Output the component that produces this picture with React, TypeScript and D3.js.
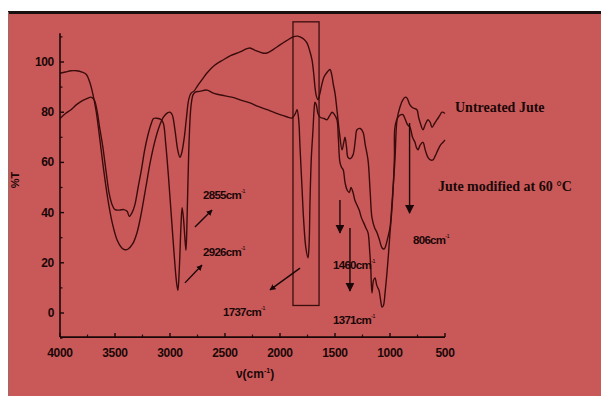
import React from 'react';
import * as d3 from 'd3';

// FTIR spectra (wavenumber cm-1, %T)
const untreated: [number, number][] = [
  [4000, 95.5], [3950, 96], [3900, 96.5], [3850, 96.5], [3800, 96], [3760, 95], [3730, 92],
  [3700, 87], [3670, 80], [3640, 70], [3600, 56], [3560, 44], [3520, 35], [3480, 29],
  [3440, 26], [3410, 25.2], [3380, 25.5], [3340, 27.5], [3300, 32], [3260, 40], [3220, 50],
  [3180, 60], [3140, 68], [3100, 74], [3060, 78], [3020, 79.8], [3000, 80], [2980, 79],
  [2955, 73], [2930, 65], [2910, 62], [2895, 63.5], [2870, 70], [2850, 78], [2830, 85],
  [2810, 87.5], [2780, 88.5], [2750, 90.5], [2700, 93.5], [2664, 95.6], [2600, 98.5],
  [2518, 100.8], [2450, 102.5], [2364, 104], [2300, 105.3], [2273, 105.6], [2220, 104.5],
  [2160, 103.6], [2118, 103.6], [2060, 105], [2000, 106.8], [1940, 108.5], [1882, 110],
  [1840, 110.3], [1818, 110], [1780, 109], [1755, 107.6], [1730, 104.5], [1709, 100.8],
  [1695, 96], [1682, 90], [1670, 86.5], [1655, 85], [1640, 87], [1620, 91], [1600, 94],
  [1570, 96], [1545, 97], [1530, 95], [1515, 91], [1500, 87.6], [1480, 80], [1460, 72],
  [1436, 65], [1420, 68], [1409, 70], [1395, 66], [1382, 62], [1360, 61.5], [1336, 63],
  [1315, 69], [1300, 73], [1270, 73.5], [1245, 72], [1225, 67], [1200, 61], [1180, 48],
  [1164, 38], [1140, 34], [1118, 32], [1095, 29], [1073, 26], [1055, 25.5], [1045, 26],
  [1020, 30], [1000, 34], [980, 45], [955, 61], [936, 77], [910, 82], [882, 85], [860, 86],
  [845, 85.6], [820, 83], [800, 82], [780, 81.5], [755, 81], [740, 78], [727, 76], [700, 73],
  [680, 75], [655, 77], [635, 76], [618, 74], [595, 75.5], [573, 77], [550, 78.5],
  [527, 80], [500, 79.5],
];

const modified60: [number, number][] = [
  [4000, 77.5], [3950, 79.5], [3900, 81], [3850, 83], [3800, 84.5], [3750, 85.5], [3720, 86],
  [3690, 85], [3665, 81], [3640, 74], [3610, 66], [3580, 56], [3550, 47], [3520, 42.5],
  [3500, 41.2], [3460, 41], [3420, 41.2], [3390, 40.5], [3370, 38.5], [3345, 40], [3320, 43],
  [3290, 50], [3260, 57], [3230, 65], [3200, 71], [3170, 75.5], [3150, 77.5], [3120, 77.6],
  [3080, 77], [3060, 75.5], [3040, 68], [3015, 55], [2990, 40], [2960, 22], [2940, 12],
  [2928, 9], [2915, 18], [2900, 35], [2890, 42], [2878, 38], [2865, 30], [2855, 25],
  [2848, 32], [2838, 50], [2825, 70], [2810, 82], [2790, 87], [2770, 88], [2730, 88.3],
  [2664, 88.8], [2600, 87.5], [2500, 86.5], [2420, 85.8], [2364, 84.9], [2273, 83.7],
  [2200, 82.3], [2118, 81], [2060, 80], [2000, 79], [1940, 78.2], [1890, 77.7], [1860, 79.5],
  [1845, 81], [1830, 77], [1818, 66], [1800, 50], [1785, 37], [1765, 26], [1745, 22],
  [1735, 28], [1727, 45], [1715, 62], [1700, 73], [1690, 81], [1682, 84], [1670, 83],
  [1655, 79.5], [1636, 78], [1600, 77.5], [1573, 77], [1550, 78.5], [1527, 80], [1505, 79],
  [1482, 77], [1470, 70], [1455, 60], [1440, 58], [1425, 57], [1409, 52], [1390, 49],
  [1370, 48], [1355, 50], [1336, 48], [1320, 45], [1300, 43], [1280, 41], [1260, 38],
  [1240, 36], [1220, 34], [1200, 32], [1185, 25], [1175, 18], [1164, 8], [1150, 13],
  [1136, 14], [1120, 11], [1100, 9], [1085, 5], [1073, 2.4], [1060, 3], [1045, 8],
  [1020, 20], [1000, 32], [985, 40], [973, 48], [960, 62], [955, 74], [927, 78], [900, 79],
  [882, 79], [860, 77], [840, 75], [818, 74], [795, 70], [773, 68], [760, 66], [745, 65],
  [725, 67], [700, 68], [680, 65], [655, 62], [633, 61], [609, 61], [590, 62.5], [564, 65],
  [540, 67], [518, 68], [500, 69],
];

const xMajor = [4000, 3500, 3000, 2500, 2000, 1500, 1000, 500];
const xMinor = [3750, 3250, 2750, 2250, 1750, 1250, 750];
const yMajor = [0, 20, 40, 60, 80, 100];
const yMinor = [-10, 10, 30, 50, 70, 90, 110];

// peak annotations: label position and arrow (from -> to), in data units
const peakLabels = [
  { text: '2855cm', wn: 2700, t: 45.4 },
  { text: '2926cm', wn: 2700, t: 22.7 },
  { text: '1737cm', wn: 2518, t: -1.2 },
  { text: '1460cm', wn: 1518, t: 17.5 },
  { text: '1371cm', wn: 1518, t: -4.4 },
  { text: '806cm', wn: 791, t: 27.5 },
];
const slantArrows = [
  { from: [2773, 34.3], to: [2618, 41] },
  { from: [2864, 12], to: [2709, 19.1] },
  { from: [1818, 17.9], to: [2091, 9.2] },
];
const dropArrows = [
  { wn: 1455, from: 45, to: 31.9 },
  { wn: 1364, from: 33.9, to: 8.8 },
  { wn: 822, from: 75.7, to: 39.8 },
];
const highlightBox = { wn0: 1882, wn1: 1645, t0: 3, t1: 116 };

const W = 601;
const H = 396;
const BG = '#c95959';
const INK = '#3a0c0c';
const TXT = '#1a0707';

export default function App() {
  const x = d3.scaleLinear().domain([4000, 500]).range([60, 445]);
  const y = d3.scaleLinear().domain([0, 100]).range([313, 62]);
  const yBottom = y(-9.6);
  const yTop = y(111.5);

  const line = d3.line<[number, number]>()
    .x(d => x(d[0]))
    .y(d => y(d[1]))
    .curve(d3.curveCatmullRom.alpha(0.5));

  const sans = '"Liberation Sans", Arial, sans-serif';
  const serif = '"Liberation Serif", "DejaVu Serif", serif';

  return (
    <div style={{ position: 'absolute', left: 0, top: 0 }}>
      <svg width={W} height={H} style={{ display: 'block' }}>
        <defs>
          <marker id="head" viewBox="0 0 10 10" refX="9" refY="5" markerWidth="6" markerHeight="6"
            orient="auto" markerUnits="userSpaceOnUse">
            <path d="M0,0 L10,5 L0,10 z" fill={TXT} />
          </marker>
          <marker id="headBig" viewBox="0 0 10 10" refX="9" refY="5" markerWidth="9" markerHeight="9"
            orient="auto" markerUnits="userSpaceOnUse">
            <path d="M0,0 L10,5 L0,10 z" fill={TXT} />
          </marker>
        </defs>
        <rect x={0} y={0} width={W} height={H} fill="#ffffff" />
        <rect x={8} y={12} width={W - 8} height={H - 12} fill={BG} />
        <line x1={8} x2={W} y1={12.5} y2={12.5} stroke="#1a1010" strokeWidth={3} />
        <line x1={8.5} x2={8.5} y1={12} y2={H} stroke="#9a6a6a" strokeWidth={1} />

        {/* highlight box */}
        <rect x={x(highlightBox.wn0)} y={y(highlightBox.t1)}
          width={x(highlightBox.wn1) - x(highlightBox.wn0)}
          height={y(highlightBox.t0) - y(highlightBox.t1)}
          fill="none" stroke={INK} strokeWidth={1.3} />

        {/* spectra */}
        <path d={line(untreated) || ''} fill="none" stroke={INK} strokeWidth={1.4} />
        <path d={line(modified60) || ''} fill="none" stroke={INK} strokeWidth={1.4} />

        {/* axes */}
        <line x1={x(4000)} x2={x(500)} y1={yBottom} y2={yBottom} stroke={TXT} strokeWidth={1.6} />
        <line x1={x(4000)} x2={x(4000)} y1={yBottom} y2={yTop} stroke={TXT} strokeWidth={1.6} />
        {xMajor.map(v => (
          <g key={'xM' + v}>
            <line x1={x(v)} x2={x(v)} y1={yBottom} y2={yBottom - 4} stroke={TXT} strokeWidth={1.4} />
            <text x={x(v)} y={yBottom + 20} textAnchor="middle" fontFamily={sans} fontWeight={700}
              fontSize={12} fill={TXT} letterSpacing={-0.3}>{v}</text>
          </g>
        ))}
        {xMinor.map(v => (
          <line key={'xm' + v} x1={x(v)} x2={x(v)} y1={yBottom} y2={yBottom - 2.5} stroke={TXT} strokeWidth={1.2} />
        ))}
        {yMajor.map(v => (
          <g key={'yM' + v}>
            <line x1={x(4000)} x2={x(4000) + 4} y1={y(v)} y2={y(v)} stroke={TXT} strokeWidth={1.4} />
            <text x={x(4000) - 6} y={y(v) + 4} textAnchor="end" fontFamily={sans} fontWeight={700}
              fontSize={12} fill={TXT} letterSpacing={-0.3}>{v}</text>
          </g>
        ))}
        {yMinor.map(v => (
          <line key={'ym' + v} x1={x(4000)} x2={x(4000) + 2.5} y1={y(v)} y2={y(v)} stroke={TXT} strokeWidth={1.2} />
        ))}
        <text x={255} y={378} textAnchor="middle" fontFamily={sans} fontWeight={700} fontSize={12} fill={TXT}>
          ν(cm<tspan dy={-5} fontSize={7}>-1</tspan><tspan dy={5}>)</tspan>
        </text>
        <text transform="translate(19,180) rotate(-90)" textAnchor="middle" fontFamily={sans}
          fontWeight={700} fontSize={11} fill={TXT}>%T</text>

        {/* peak annotations */}
        {slantArrows.map((a, i) => (
          <line key={'sa' + i} x1={x(a.from[0])} y1={y(a.from[1])} x2={x(a.to[0])} y2={y(a.to[1])}
            stroke={TXT} strokeWidth={1.4} markerEnd="url(#head)" />
        ))}
        {dropArrows.map((a, i) => (
          <line key={'da' + i} x1={x(a.wn)} y1={y(a.from)} x2={x(a.wn)} y2={y(a.to)}
            stroke={TXT} strokeWidth={1.4} markerEnd="url(#headBig)" />
        ))}
        {peakLabels.map(l => (
          <text key={l.text + l.t} x={x(l.wn)} y={y(l.t)} fontFamily={sans} fontSize={11.5}
            fill={TXT} fontWeight={700} letterSpacing={-0.7}>
            {l.text}<tspan dy={-6} fontSize={6} fontWeight={400}>-1</tspan>
          </text>
        ))}

        {/* series labels */}
        <text x={x(409)} y={y(80)} fontFamily={serif} fontWeight={700} fontSize={14} fill={TXT}>
          Untreated Jute
        </text>
        <text x={x(564)} y={y(48.6)} fontFamily={serif} fontWeight={700} fontSize={14} fill={TXT}>
          Jute modified at 60 °C
        </text>
      </svg>
    </div>
  );
}
